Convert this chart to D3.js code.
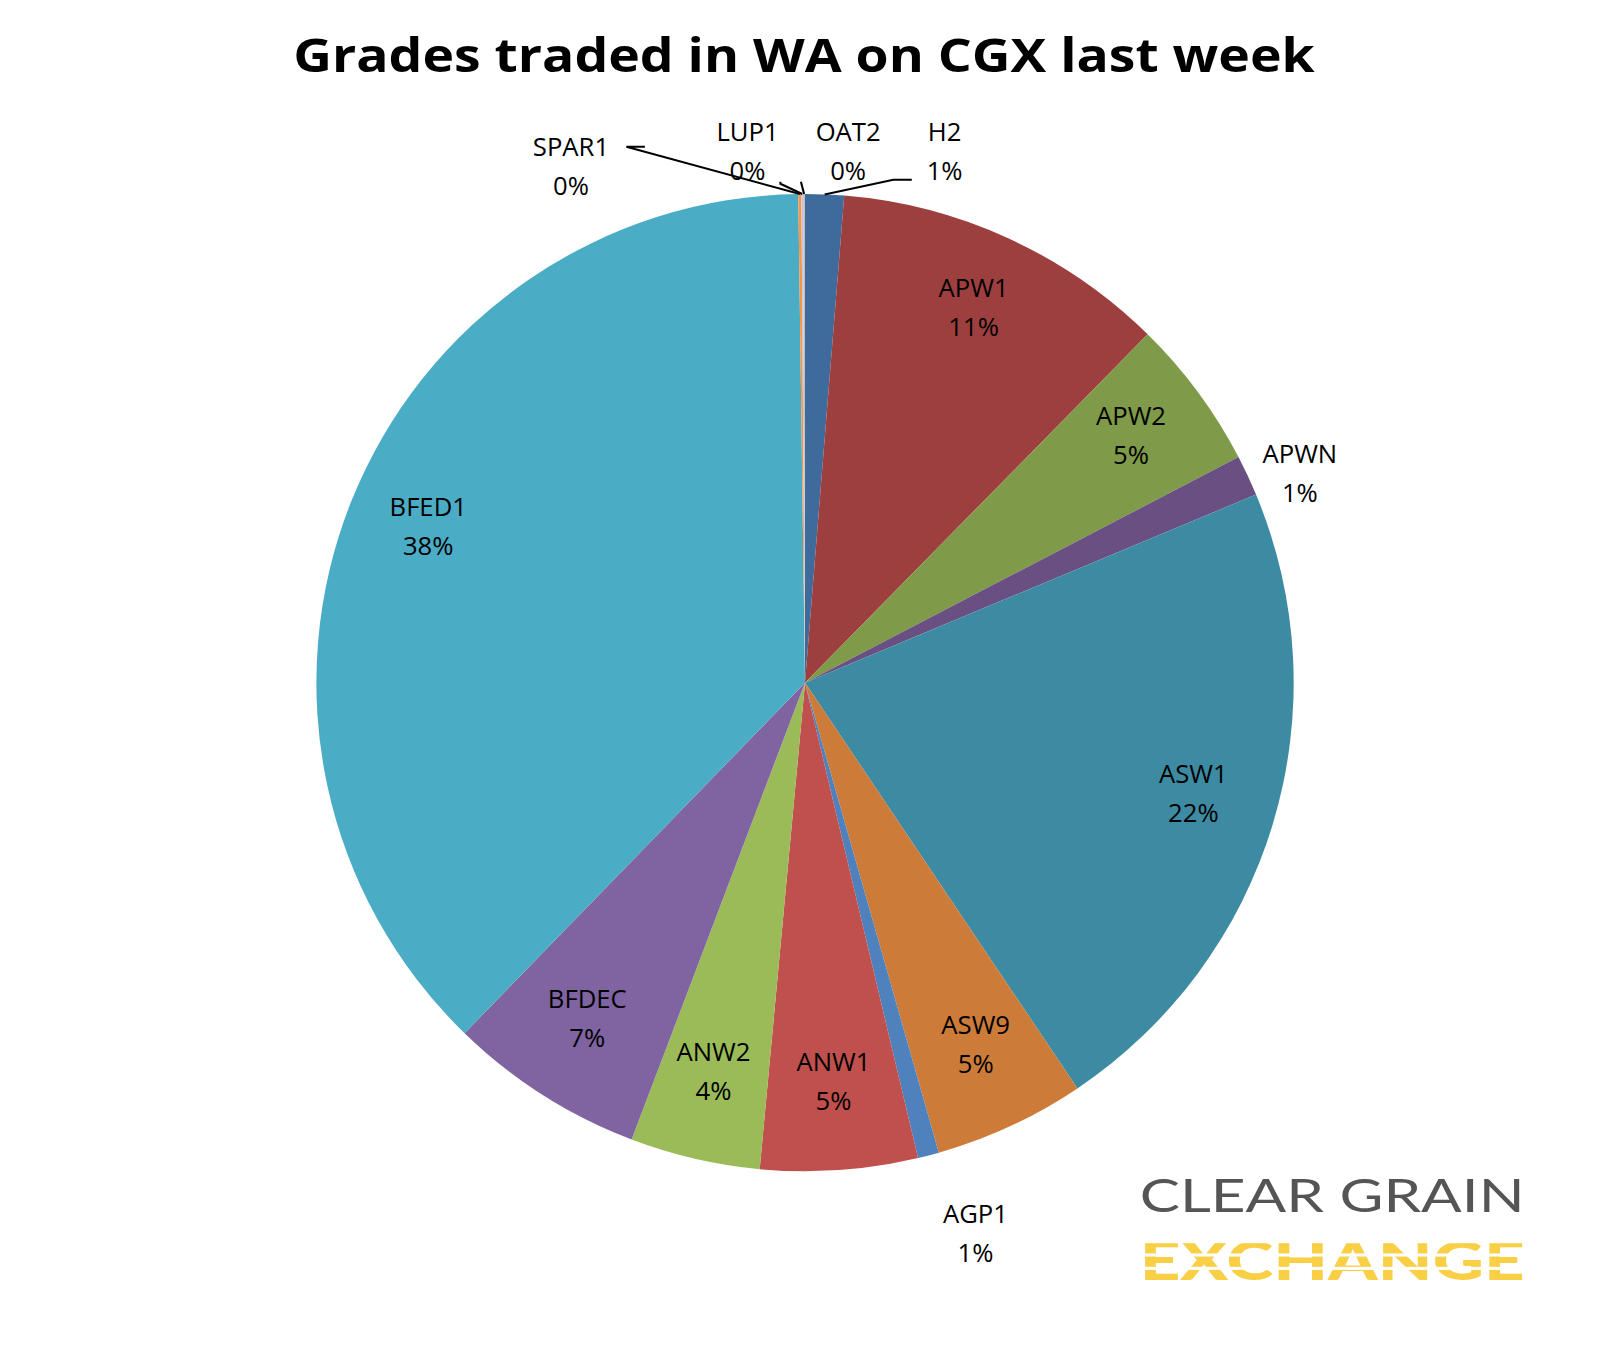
<!DOCTYPE html>
<html><head><meta charset="utf-8">
<script src="https://cdn.jsdelivr.net/npm/d3@7"></script>
<style>body{margin:0;background:#fff}</style></head>
<body><svg id="c" width="1608" height="1351" viewBox="0 0 1566 1316"></svg>
<script>
const categories=["H2","APW1","APW2","APWN","ASW1","ASW9","AGP1","ANW1","ANW2","BFDEC","BFED1","SPAR1","LUP1","OAT2"];
const values=[1.28,11.1,5.0,1.35,21.9,5.0,0.7,5.2,4.3,6.5,37.55,0.1,0.06,0.06];
const pctLabels=["1%","11%","5%","1%","22%","5%","1%","5%","4%","7%","38%","0%","0%","0%"];
const colors=["#3F6A9C","#9E3F3F","#7F9A48","#6A5082","#3D8BA2","#CD7B38","#4F81BD","#C0504D","#9BBB59","#8064A2","#4BACC6","#F79646","#C6C6E0","#C0C0C0"];
const svg=d3.select("#c");
const cx=784,cy=665,R=476;
svg.append("text").attr("x",783).attr("y",70).attr("text-anchor","middle")
 .attr("font-family","'Open Sans', sans-serif").attr("font-weight","bold").attr("font-size",46)
 .attr("textLength",995).attr("lengthAdjust","spacingAndGlyphs").text("Grades traded in WA on CGX last week");
const pie=d3.pie().sort(null).value(d=>d)(values);
const arc=d3.arc().innerRadius(0).outerRadius(R);
const g=svg.append("g").attr("transform",`translate(${cx},${cy})`);
g.selectAll("path").data(pie).join("path").attr("d",arc).attr("fill",(d,i)=>colors[i]);
const outside={0:[136,-520],3:[482,-206],6:[166,534],11:[-228,-505],12:[-56,-520],13:[42,-520]};
const lab=d3.arc().innerRadius(395).outerRadius(395);
const font="'Open Sans', sans-serif";
pie.forEach((d,i)=>{
  let [x,y]=outside[i]||lab.centroid(d);
  if(!outside[i]) y-=8;
  const t=g.append("text").attr("text-anchor","middle").attr("font-family",font).attr("font-size",25).attr("fill","#000");
  t.append("tspan").attr("x",x).attr("y",y-8).text(categories[i]);
  t.append("tspan").attr("x",x).attr("y",y+30).text(pctLabels[i]);
});
const edge=a=>[Math.sin(a)*R,-Math.cos(a)*R];
const lines=[[0,[[104,-490],[86,-490]]],[11,[[-156,-522],[-174,-522]]],[12,[[-24,-488],[-24,-486]]],[13,[[-4,-488]]]];
lines.forEach(([i,pts])=>{
  const d=pie[i];const e=edge((d.startAngle+d.endAngle)/2);
  g.append("path").attr("d",d3.line()([...pts,e])).attr("fill","none").attr("stroke","#000").attr("stroke-width",2);
});
svg.append("text").attr("font-family","Lato, sans-serif").attr("x",1110).attr("y",1181).attr("font-size",45).attr("fill","#555").attr("textLength",375).attr("lengthAdjust","spacingAndGlyphs").text("CLEAR GRAIN");
svg.append("text").attr("font-family","Lato, sans-serif").attr("x",1110).attr("y",1247).attr("font-weight","900").attr("font-size",52).attr("fill","#F9CF45").attr("textLength",375).attr("lengthAdjust","spacingAndGlyphs").text("EXCHANGE");
[1208,1221,1234].forEach(y=>svg.append("rect").attr("x",1104).attr("y",y).attr("width",385).attr("height",3).attr("fill","#fff"));
</script></body></html>
